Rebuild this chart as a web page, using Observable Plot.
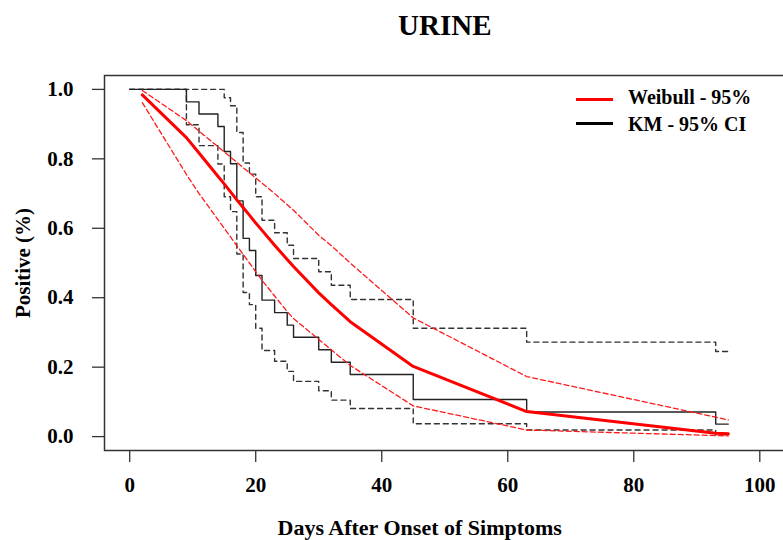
<!DOCTYPE html>
<html><head><meta charset="utf-8">
<script src="https://cdn.jsdelivr.net/npm/d3@7"></script>
<script src="https://cdn.jsdelivr.net/npm/@observablehq/plot@0.6"></script>
<style>
html,body{margin:0;padding:0;background:#fff;overflow:hidden;}
#wrap{position:relative;width:783px;height:540px;}
.legtxt{position:absolute;font-family:"Liberation Serif","Times New Roman",serif;font-weight:bold;font-size:20px;line-height:20px;color:#000;white-space:nowrap;}
.legline{position:absolute;height:0;}
</style></head><body><div id="wrap"></div>
<script>
// Weibull fit evaluated at observed times
const fitTimes     = [2, 9, 11, 14, 15, 16, 17, 18, 19, 20, 21, 23, 25, 26, 30, 32, 35, 45, 63, 93, 95];
const weibullFit   = [0.984, 0.861, 0.817, 0.750, 0.728, 0.705, 0.682, 0.660, 0.638, 0.615, 0.594, 0.551, 0.510, 0.490, 0.414, 0.380, 0.331, 0.202, 0.072, 0.010, 0.008];
const weibullUpper = [0.997, 0.910, 0.880, 0.835, 0.820, 0.805, 0.790, 0.775, 0.760, 0.745, 0.730, 0.700, 0.668, 0.652, 0.580, 0.550, 0.500, 0.342, 0.173, 0.056, 0.048];
const weibullLower = [0.962, 0.755, 0.700, 0.625, 0.600, 0.575, 0.550, 0.525, 0.500, 0.475, 0.450, 0.405, 0.360, 0.340, 0.280, 0.250, 0.205, 0.0885, 0.019, 0.003, 0.002];

// Kaplan-Meier estimate and 95% CI
const kmTimes = [0, 9, 11, 14, 15, 16, 17, 18, 19, 20, 21, 23, 25, 26, 30, 32, 35, 45, 63, 93, 95];
const kmSurv  = [1, 0.964, 0.929, 0.893, 0.821, 0.786, 0.679, 0.571, 0.536, 0.464, 0.393, 0.357, 0.321, 0.286, 0.250, 0.214, 0.179, 0.107, 0.071, 0.036, 0.036];
const kmUpper = [1, 1, 1, 1, 0.976, 0.953, 0.876, 0.788, 0.756, 0.691, 0.623, 0.587, 0.551, 0.513, 0.475, 0.436, 0.395, 0.312, 0.272, 0.245, 0.245];
const kmLower = [1, 0.898, 0.838, 0.785, 0.691, 0.648, 0.526, 0.415, 0.380, 0.312, 0.248, 0.217, 0.188, 0.159, 0.132, 0.105, 0.081, 0.037, 0.019, 0.005, 0.005];

const xTicks = [0, 20, 40, 60, 80, 100];
const yTicks = [0, 0.2, 0.4, 0.6, 0.8, 1.0];
const titleText = "URINE";
const xLabel = "Days After Onset of Simptoms";
const yLabel = "Positive (%)";
const legendItems = [
  {label: "Weibull - 95%", color: "#ff0000"},
  {label: "KM - 95% CI", color: "#000000"}
];

const serif = "'Liberation Serif','Times New Roman',serif";
const km = kmTimes.map((t, i) => ({t, s: kmSurv[i], u: kmUpper[i], l: kmLower[i]}));
const wb = fitTimes.map((t, i) => ({t, s: weibullFit[i], u: weibullUpper[i], l: weibullLower[i]}));

const chart = Plot.plot({
  width: 783,
  height: 540,
  marginLeft: 104,
  marginTop: 75,
  marginBottom: 90,
  marginRight: -1.5,
  style: {fontFamily: serif, color: "#000", background: "#fff"},
  x: {domain: [-4, 104]},
  y: {domain: [-0.04, 1.04]},
  marks: [
    Plot.frame({stroke: "#333", strokeWidth: 1.5}),
    Plot.axisX({ticks: xTicks, tickSize: 12, tickPadding: 15, fontSize: 21, fontWeight: "bold", fontFamily: serif, label: null, stroke: "#333", strokeWidth: 1.3}),
    Plot.axisY({ticks: yTicks, tickFormat: d3.format(".1f"), tickSize: 12, tickPadding: 19, fontSize: 21, fontWeight: "bold", fontFamily: serif, label: null, stroke: "#333", strokeWidth: 1.3}),
    Plot.line(km, {x: "t", y: "u", curve: "step-after", stroke: "#333", strokeWidth: 1.4, strokeDasharray: "5,4"}),
    Plot.line(km, {x: "t", y: "l", curve: "step-after", stroke: "#333", strokeWidth: 1.4, strokeDasharray: "5,4"}),
    Plot.line(km, {x: "t", y: "s", curve: "step-after", stroke: "#222", strokeWidth: 1.4}),
    Plot.line(wb, {x: "t", y: "u", stroke: "#ff1a1a", strokeWidth: 1.3, strokeDasharray: "5,3"}),
    Plot.line(wb, {x: "t", y: "l", stroke: "#ff1a1a", strokeWidth: 1.3, strokeDasharray: "5,3"}),
    Plot.line(wb, {x: "t", y: "s", stroke: "#ff0000", strokeWidth: 3}),
    Plot.text([titleText], {text: d => d, frameAnchor: "top", dy: -50, fontSize: 29, fontWeight: "bold", fontFamily: serif, lineAnchor: "middle"}),
    Plot.text([xLabel], {text: d => d, frameAnchor: "bottom", dx: -25, dy: 77, fontSize: 22, fontWeight: "bold", fontFamily: serif, lineAnchor: "middle", textAnchor: "middle"}),
    Plot.text([yLabel], {text: d => d, frameAnchor: "left", dx: -81, rotate: -90, fontSize: 21, fontWeight: "bold", fontFamily: serif, lineAnchor: "middle", textAnchor: "middle"})
  ]
});
const wrap = document.getElementById("wrap");
wrap.appendChild(chart);

// legend
legendItems.forEach((item, i) => {
  const ln = document.createElement("div");
  ln.className = "legline";
  ln.style.left = "576px";
  ln.style.width = "37px";
  ln.style.top = (97.5 + i * 24) + "px";
  ln.style.borderTop = "3px solid " + item.color;
  wrap.appendChild(ln);
  const tx = document.createElement("div");
  tx.className = "legtxt";
  tx.style.left = "628px";
  tx.style.top = (87 + i * 27) + "px";
  tx.textContent = item.label;
  wrap.appendChild(tx);
});
</script>
</body></html>
